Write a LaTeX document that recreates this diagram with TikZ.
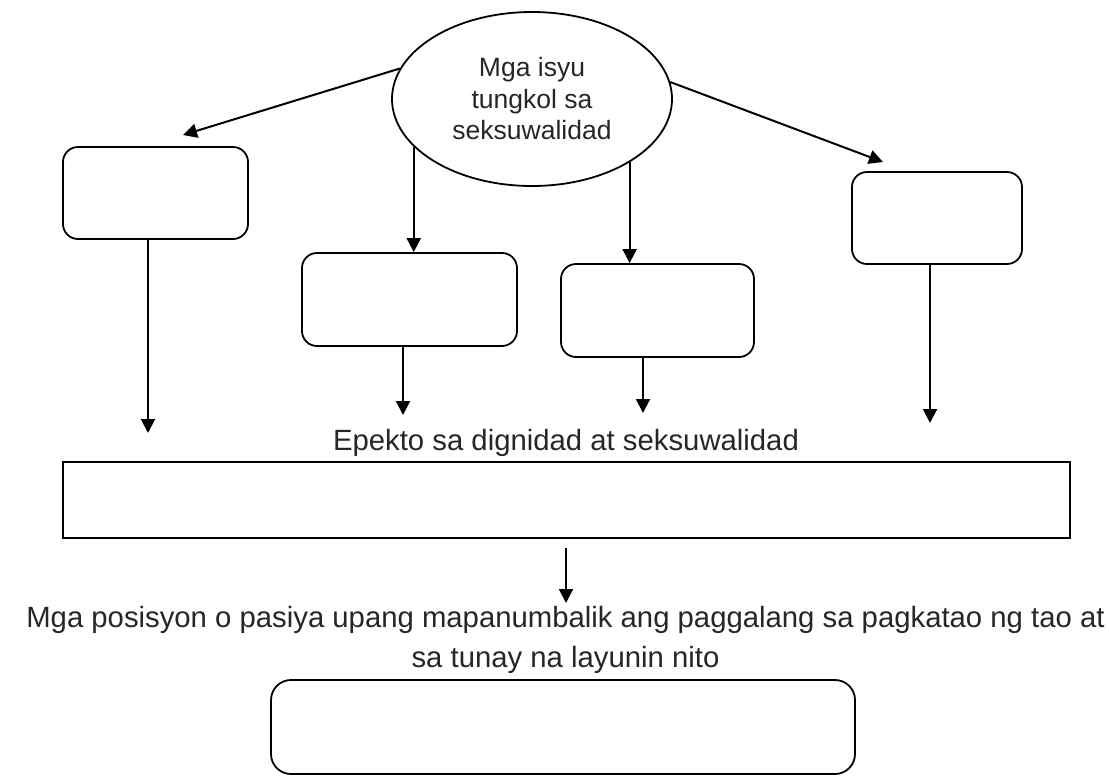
\documentclass[tikz,border=0pt]{standalone}
\usepackage{fontspec}
\setmainfont{Liberation Sans}
\usetikzlibrary{arrows.meta,shapes.geometric}
\definecolor{textgray}{RGB}{38,38,38}

\tikzstyle{title} = [font=\fontsize{29.3}{29.3}\selectfont,text=textgray,inner sep=0pt,anchor=base]
\tikzstyle{issue} = [shape=ellipse,draw,line width=1.8pt,minimum width=280pt,minimum height=174pt,inner sep=0pt,align=center,text=textgray,font=\fontsize{26.5}{31.5}\selectfont]
\tikzstyle{boxdecorate} = [shape=rectangle,draw,line width=1.8pt,inner sep=0pt]
\tikzstyle{arrowdecorate} = [-{Triangle[width=14pt,length=14pt]},line width=2pt]

\begin{document}
\begin{tikzpicture}[x=1pt,y=-1pt]
  \useasboundingbox (0,0) rectangle (1109,777);
  %nodes
  \node[issue] (issue) at (532,99) {Mga isyu\\tungkol sa\\seksuwalidad};
  \foreach \nodename/\x/\y/\w/\h/\r in {
    b1/155.5/193/185/92/15, b2/409.5/299.5/215/93/15,
    b3/657.5/310.5/193/93/15, b4/937/218/170/92/15,
    pos/563/727/584/94/20}
  {
    \node[boxdecorate, rounded corners=\r pt, minimum width=\w pt, minimum height=\h pt] (\nodename) at (\x,\y) {};
  };
  \node[boxdecorate, minimum width=1007pt, minimum height=76pt] (effect) at (566.5,500) {};
  \node[title] (effecttext) at (566,450) {Epekto sa dignidad at seksuwalidad};
  \node[title] (postext) at (565.5,627) {Mga posisyon o pasiya upang mapanumbalik ang paggalang sa pagkatao ng tao at};
  \node[title] (postextb) at (565.5,667) {sa tunay na layunin nito};
  %free ends
  \foreach \pointname/\x/\y in {t1/183/135, t4/883/162, d1/148/433, d2/403/415,
    d3/643/413, d4/930/423, s5/566/548, d5/566/603}
  {
    \coordinate (\pointname) at (\x,\y);
  };
  %edges
  \draw[arrowdecorate] (issue.167) -- (t1);
  \draw[arrowdecorate] (issue.7) -- (t4);
  \draw[arrowdecorate] (issue.-158) -- (issue.-158 |- b2.north);
  \draw[arrowdecorate] (issue.-33) -- (issue.-33 |- b3.north);
  \foreach \boxname/\pointname in {b1/d1, b2/d2, b3/d3, b4/d4}
  {
    \draw[arrowdecorate] (\boxname.south -| \pointname) -- (\pointname);
  };
  \draw[arrowdecorate] (s5) -- (d5);
\end{tikzpicture}
\end{document}
